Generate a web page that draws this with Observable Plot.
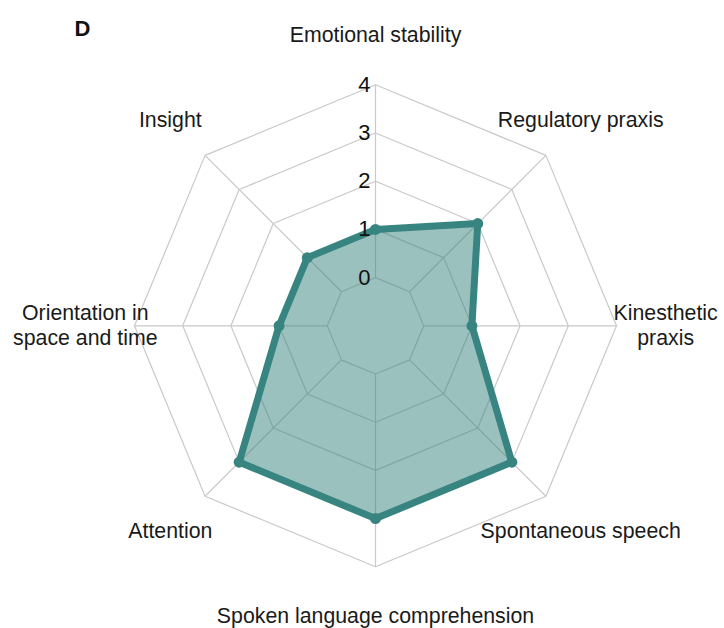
<!DOCTYPE html>
<html>
<head>
<meta charset="utf-8">
<script src="https://cdn.jsdelivr.net/npm/d3@7"></script>
<script src="https://cdn.jsdelivr.net/npm/@observablehq/plot@0.6"></script>
<style>
  html, body { margin: 0; padding: 0; background: #fff; }
  #chart { width: 724px; height: 628px; }
</style>
</head>
<body>
<div id="chart"></div>
<script>
// ---- data ----
const panelLabel = "D";
const categories = [
  "Emotional stability",
  "Regulatory praxis",
  "Kinesthetic\npraxis",
  "Spontaneous speech",
  "Spoken language comprehension",
  "Attention",
  "Orientation in\nspace and time",
  "Insight"
];
const scores = [1, 2, 1, 3, 3, 3, 1, 1];
const levels = [0, 1, 2, 3, 4];
const tickLabels = ["0", "1", "2", "3", "4"];

// ---- geometry helpers (value -> radial units; 0 sits one unit off centre) ----
const n = categories.length;
const rOf = v => v + 1;
const ang = i => (i * 2 * Math.PI) / n;
const px = (i, r) => r * Math.sin(ang(i));
const py = (i, r) => r * Math.cos(ang(i));

const rings = levels.flatMap(l =>
  d3.range(n + 1).map(i => ({level: l, x: px(i % n, rOf(l)), y: py(i % n, rOf(l))}))
);
const spokes = categories.map((c, i) => ({
  x1: px(i, rOf(0)), y1: py(i, rOf(0)),
  x2: px(i, rOf(4)), y2: py(i, rOf(4))
}));
const pts = scores.map((v, i) => ({name: categories[i], v, x: px(i, rOf(v)), y: py(i, rOf(v))}));
const labelPts = categories.map((c, i) => ({name: c, x: px(i, 6.02), y: py(i, 6.02)}));
const tickPts = levels.map((l, k) => ({t: tickLabels[k], x: 0, y: rOf(l)}));

const cx = 375, cy = 325.3, R = 241;
const teal = "#378480";

const chart = Plot.plot({
  width: 724,
  height: 628,
  margin: 0,
  style: {fontFamily: "'Liberation Sans', Arial, sans-serif", background: "#fff"},
  x: {domain: [-5, 5], range: [cx - R, cx + R], axis: null},
  y: {domain: [-5, 5], range: [cy + R, cy - R], axis: null},
  marks: [
    Plot.line(rings, {x: "x", y: "y", z: "level", stroke: "#c9c9c9", strokeWidth: 1.2}),
    Plot.link(spokes, {x1: "x1", y1: "y1", x2: "x2", y2: "y2", stroke: "#c9c9c9", strokeWidth: 1.2}),
    Plot.line(pts, {x: "x", y: "y", curve: "linear-closed", fill: teal, fillOpacity: 0.5, stroke: teal, strokeWidth: 7, strokeLinejoin: "round"}),
    Plot.dot(pts, {x: "x", y: "y", r: 5.5, fill: teal}),
    Plot.text(tickPts, {x: "x", y: "y", text: "t", textAnchor: "end", dx: -5, fontSize: 22, fill: "#111"}),
    Plot.text(labelPts, {x: "x", y: "y", text: "name", dy: -1.5, fontSize: 21.3, lineHeight: 1.2, fill: "#1a1a1a"}),
    Plot.text([panelLabel], {frameAnchor: "top-left", dx: 74, dy: 20, fontSize: 22, fontWeight: "bold", fill: "#111", lineAnchor: "top"})
  ]
});
document.getElementById("chart").appendChild(chart);
</script>
</body>
</html>
